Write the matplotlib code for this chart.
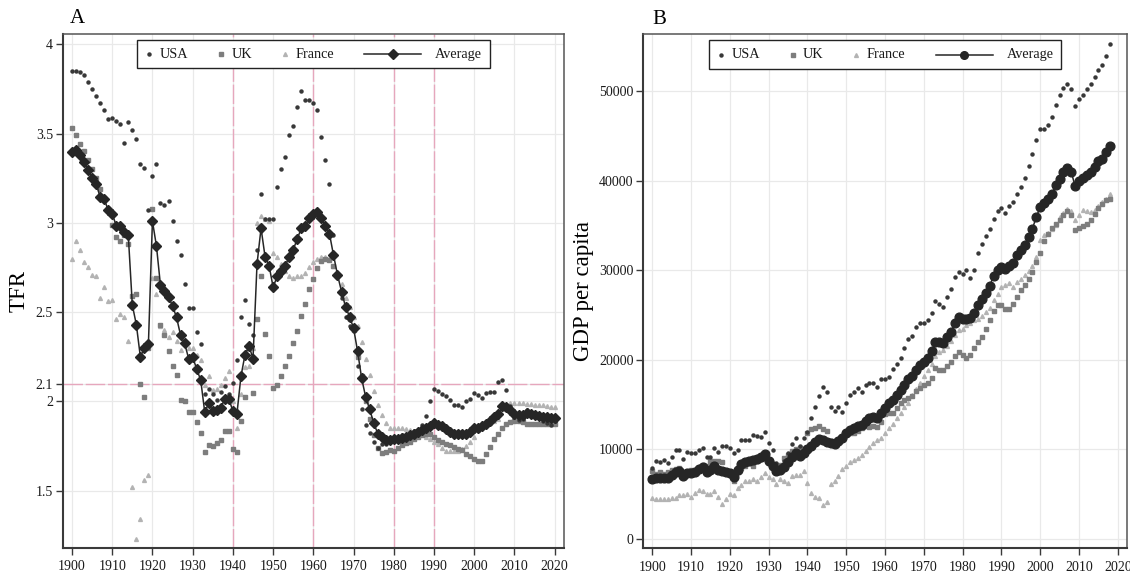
import numpy as np
import matplotlib
matplotlib.use('Agg')
import matplotlib.pyplot as plt
from matplotlib.lines import Line2D
from matplotlib.offsetbox import AnchoredOffsetbox, HPacker, DrawingArea, TextArea

plt.rcParams['font.family'] = ['Liberation Serif', 'DejaVu Serif']

#%% Datos: tasa de fecundidad (TFR), 1900-2020

anios_tfr = np.arange(1900, 2021)

tfr_usa = [3.85, 3.85, 3.845, 3.83, 3.79, 3.75, 3.71, 3.67, 3.63, 3.58,
           3.59, 3.57, 3.555, 3.45, 3.565, 3.52, 3.47, 3.33, 3.31, 3.07,
           3.26, 3.33, 3.11, 3.10, 3.12, 3.01, 2.90, 2.82, 2.66, 2.525,
           2.525, 2.39, 2.32, 2.04, 2.07, 2.04, 2.01, 2.05, 2.085, 2.04,
           2.105, 2.23, 2.47, 2.57, 2.435, 2.37, 2.85, 3.16, 3.02, 3.02,
           3.02, 3.20, 3.30, 3.37, 3.49, 3.54, 3.65, 3.74, 3.69, 3.69,
           3.67, 3.63, 3.48, 3.35, 3.22, 2.93, 2.72, 2.58, 2.47, 2.42,
           2.40, 2.20, 1.96, 1.87, 1.825, 1.77, 1.74, 1.76, 1.76, 1.79,
           1.80, 1.79, 1.81, 1.80, 1.81, 1.835, 1.84, 1.87, 1.92, 2.00,
           2.07, 2.057, 2.044, 2.03, 2.006, 1.978, 1.978, 1.97, 2.00, 2.016,
           2.047, 2.034, 2.02, 2.047, 2.05, 2.05, 2.11, 2.12, 2.066, 1.975,
           1.91, 1.895, 1.90, 1.95, 1.93, 1.92, 1.91, 1.89, 1.88, 1.87, 1.89]

tfr_uk = [3.53, 3.49, 3.44, 3.40, 3.35, 3.30, 3.25, 3.19, 3.14, 3.08,
          2.99, 2.92, 2.90, 2.93, 2.88, 2.59, 2.60, 2.10, 2.025, 2.30,
          3.08, 2.69, 2.43, 2.37, 2.28, 2.20, 2.15, 2.01, 2.00, 1.94,
          1.94, 1.885, 1.825, 1.716, 1.758, 1.75, 1.767, 1.786, 1.834, 1.834,
          1.735, 1.716, 1.89, 2.025, 2.30, 2.047, 2.464, 2.70, 2.38, 2.254,
          2.075, 2.094, 2.143, 2.197, 2.254, 2.327, 2.394, 2.477, 2.544, 2.627,
          2.688, 2.748, 2.787, 2.795, 2.79, 2.76, 2.70, 2.61, 2.54, 2.46,
          2.40, 2.25, 2.14, 2.00, 1.90, 1.81, 1.74, 1.71, 1.715, 1.725,
          1.72, 1.74, 1.755, 1.765, 1.775, 1.79, 1.80, 1.81, 1.82, 1.82,
          1.80, 1.786, 1.775, 1.764, 1.755, 1.744, 1.735, 1.726, 1.707, 1.692,
          1.68, 1.664, 1.664, 1.707, 1.744, 1.79, 1.82, 1.85, 1.876, 1.885,
          1.89, 1.89, 1.885, 1.872, 1.872, 1.872, 1.872, 1.872, 1.872, 1.872, 1.872]

tfr_fra = [2.80, 2.90, 2.85, 2.78, 2.75, 2.71, 2.70, 2.58, 2.64, 2.56,
           2.57, 2.46, 2.49, 2.47, 2.34, 1.52, 1.23, 1.34, 1.56, 1.59,
           2.69, 2.60, 2.42, 2.40, 2.36, 2.39, 2.34, 2.29, 2.33, 2.30,
           2.30, 2.26, 2.23, 2.09, 2.14, 2.066, 2.07, 2.09, 2.13, 2.17,
           2.00, 1.85, 2.04, 2.19, 2.20, 2.30, 3.00, 3.04, 3.02, 3.01,
           2.83, 2.81, 2.77, 2.73, 2.70, 2.69, 2.70, 2.70, 2.72, 2.75,
           2.78, 2.80, 2.81, 2.81, 2.80, 2.76, 2.71, 2.66, 2.58, 2.53,
           2.47, 2.42, 2.33, 2.236, 2.146, 2.06, 1.978, 1.926, 1.88, 1.85,
           1.85, 1.85, 1.85, 1.845, 1.84, 1.835, 1.83, 1.82, 1.80, 1.79,
           1.77, 1.76, 1.74, 1.72, 1.72, 1.72, 1.72, 1.735, 1.75, 1.77,
           1.80, 1.84, 1.88, 1.87, 1.88, 1.89, 1.90, 1.955, 1.97, 1.99,
           1.99, 1.99, 1.99, 1.985, 1.985, 1.98, 1.98, 1.98, 1.975, 1.97, 1.97]

tfr_prom = [3.395, 3.41, 3.38, 3.34, 3.295, 3.25, 3.22, 3.145, 3.135, 3.07,
            3.05, 2.985, 2.98, 2.95, 2.93, 2.54, 2.43, 2.25, 2.30, 2.32,
            3.01, 2.87, 2.65, 2.62, 2.585, 2.535, 2.47, 2.37, 2.325, 2.24,
            2.25, 2.18, 2.12, 1.94, 1.99, 1.945, 1.95, 1.965, 2.015, 2.015,
            1.945, 1.93, 2.14, 2.26, 2.31, 2.24, 2.77, 2.97, 2.81, 2.76,
            2.64, 2.70, 2.73, 2.76, 2.81, 2.85, 2.91, 2.97, 2.985, 3.025,
            3.05, 3.06, 3.025, 2.985, 2.94, 2.82, 2.71, 2.615, 2.53, 2.475,
            2.41, 2.28, 2.13, 2.025, 1.955, 1.88, 1.82, 1.80, 1.785, 1.785,
            1.79, 1.79, 1.795, 1.80, 1.81, 1.82, 1.83, 1.84, 1.85, 1.865,
            1.88, 1.87, 1.86, 1.845, 1.83, 1.82, 1.815, 1.815, 1.82, 1.83,
            1.85, 1.85, 1.86, 1.875, 1.89, 1.91, 1.93, 1.975, 1.97, 1.95,
            1.93, 1.925, 1.925, 1.935, 1.93, 1.925, 1.92, 1.915, 1.91, 1.905, 1.905]

tfr_ticks = [1.5, 2, 2.1, 2.5, 3, 3.5, 4]
tfr_ticklabels = ['1.5', '2', '2.1', '2.5', '3', '3.5', '4']
anios_ref = [1940, 1960, 1980, 1990]   # lineas verticales punteadas
tfr_ref = 2.1                          # nivel de reemplazo

#%% Datos: PBI per capita, 1900-2018

anios_gdp = np.arange(1900, 2019)

gdp_usa = [7950, 8700, 8550, 8810, 8440, 9180, 9920, 9920, 8920, 9730,
           9550, 9620, 9920, 10110, 9100, 9180, 10180, 9730, 10400, 10400,
           10110, 9550, 9920, 11040, 11040, 11040, 11590, 11480, 11400, 11890,
           10670, 9920, 8440, 8180, 8700, 9550, 10560, 11290, 10400, 11290,
           11890, 13530, 14750, 15980, 16910, 16420, 14750, 14270, 14680, 14120,
           15130, 16050, 16350, 16870, 16420, 17170, 17360, 17360, 16910, 17840,
           17910, 18100, 18920, 19480, 20210, 21330, 22370, 22630, 23670, 24160,
           24050, 24410, 25270, 26530, 26280, 25900, 27010, 27950, 29240, 29800,
           29540, 29990, 29170, 30070, 31960, 32970, 33780, 34640, 35750, 36600,
           36980, 36420, 37160, 37610, 38540, 39280, 40280, 41620, 43000, 44480,
           45790, 45790, 46150, 47080, 48390, 49500, 50360, 50800, 50170, 48310,
           49050, 49580, 50250, 50800, 51540, 52290, 52920, 53880, 55260]

gdp_uk = [7580, 7300, 7450, 7200, 7450, 7650, 7780, 7900, 7400, 7300,
          7700, 7750, 7950, 8300, 8100, 8700, 8750, 8650, 8550, 7500,
          7100, 6500, 7500, 7950, 8100, 8500, 8200, 8700, 8900, 9000,
          8500, 8000, 8200, 8240, 9000, 9400, 9800, 10000, 10100, 10000,
          11800, 12300, 12400, 12600, 12300, 12000, 10900, 10700, 11000, 11400,
          11700, 11800, 11800, 12000, 12340, 12600, 12520, 12630, 12520, 13080,
          13940, 14010, 14010, 14570, 15130, 15500, 15690, 15940, 16530, 16800,
          17170, 17430, 17920, 19100, 18840, 18840, 19290, 19770, 20400, 20880,
          20510, 20250, 20510, 21260, 22000, 22550, 23380, 24410, 25450, 26090,
          26090, 25720, 25720, 26280, 27010, 27760, 28320, 29060, 29800, 30900,
          31960, 33260, 34080, 34710, 35120, 35560, 36120, 36600, 36120, 34450,
          34750, 34900, 35120, 35640, 36310, 36980, 37350, 37800, 37980]

gdp_fra = [4530, 4500, 4460, 4500, 4500, 4550, 4600, 4900, 4900, 4980,
           4700, 5130, 5500, 5400, 5050, 5050, 5400, 4700, 3870, 4500,
           5050, 4900, 5650, 6000, 6500, 6500, 6650, 6450, 6900, 7390,
           6900, 6650, 6140, 6650, 6450, 6280, 7020, 7130, 7130, 7540,
           6280, 5130, 4680, 4530, 3820, 4080, 6090, 6450, 7020, 7760,
           8140, 8550, 8770, 9000, 9400, 9800, 10300, 10700, 11040, 11230,
           11850, 12340, 12820, 13460, 14010, 14680, 15200, 16050, 16720, 17360,
           18170, 18840, 19480, 20400, 20880, 21070, 21520, 22070, 22740, 23300,
           23490, 23860, 24120, 24410, 24600, 24860, 25340, 25830, 26640, 27390,
           28130, 28320, 28570, 28130, 28690, 29060, 29430, 29880, 30430, 31470,
           33410, 33890, 34190, 34560, 35000, 35930, 36380, 36870, 36600, 35560,
           36120, 36680, 36600, 36490, 36680, 37160, 37610, 37910, 38540]

gdp_prom = [6690, 6770, 6800, 6770, 6800, 7130, 7430, 7580, 7060, 7320,
            7320, 7500, 7800, 7990, 7430, 7690, 8140, 7690, 7580, 7430,
            7400, 6950, 7690, 8330, 8550, 8700, 8810, 8880, 9100, 9440,
            8700, 8180, 7620, 7690, 8070, 8630, 9180, 9550, 9250, 9630,
            10030, 10400, 10850, 11110, 11040, 10850, 10670, 10560, 10970, 11290,
            11780, 12150, 12410, 12600, 12710, 13190, 13460, 13630, 13550, 14080,
            14570, 15130, 15500, 16050, 16610, 17170, 17800, 18170, 18840, 19400,
            19770, 20210, 21000, 22000, 22000, 21820, 22550, 23110, 24110, 24780,
            24530, 24530, 24670, 25270, 26090, 26760, 27460, 28240, 29400, 30000,
            30360, 30100, 30470, 30850, 31660, 32220, 32780, 33700, 34640, 35940,
            37050, 37490, 37910, 38540, 39460, 40210, 40950, 41440, 40950, 39390,
            39910, 40280, 40580, 40950, 41500, 42140, 42440, 43180, 43850]

gdp_ticks = [0, 10000, 20000, 30000, 40000, 50000]
anios_ticks = np.arange(1900, 2021, 10)

#%% Estilos

c_usa = '#383838'
c_uk = '#7d7d7d'
c_fra = '#b3b3b3'
c_prom = '#262626'
c_ref = '#e6a7bd'
c_grid = '#e9e9e9'
c_eje = '#3a3a3a'


def estilo_ejes(ax):
    ax.set_xticks(anios_ticks)
    ax.set_xlim(1897.7, 2022.3)
    ax.grid(True, color=c_grid, lw=0.9, zorder=0)
    ax.set_axisbelow(True)
    for lado in ['left', 'bottom']:
        ax.spines[lado].set_linewidth(1.5)
        ax.spines[lado].set_color(c_eje)
    for lado in ['top', 'right']:
        ax.spines[lado].set_linewidth(1.1)
        ax.spines[lado].set_color('#555555')
    ax.tick_params(axis='both', direction='out', length=5, width=1,
                   color=c_eje, labelsize=10, labelcolor='#1a1a1a')
    ax.tick_params(axis='x', pad=4)
    ax.tick_params(axis='y', pad=2)


def leyenda(ax, marca_prom, ms_prom):
    # leyenda armada a mano para copiar el espaciado original (unidades: pt)
    def clave(ancho, **kw):
        da = DrawingArea(ancho, 8, 0, 0)
        da.add_artist(Line2D([ancho / 2], [4], ls='none', **kw))
        return da

    def hueco(ancho):
        return DrawingArea(ancho, 1, 0, 0)

    def texto(s):
        return TextArea(s, textprops=dict(fontsize=10.3, color='#1a1a1a'))

    da_prom = DrawingArea(41, 8, 0, 0)
    da_prom.add_artist(Line2D([0, 41], [4, 4], color=c_prom, lw=1.1))
    da_prom.add_artist(Line2D([20.5], [4], ls='none', marker=marca_prom,
                              ms=ms_prom, color=c_prom))

    items = [clave(7, marker='o', ms=2.2, color=c_usa), hueco(4), texto('USA'),
             hueco(20),
             clave(7, marker='s', ms=2.6, color=c_uk), hueco(4), texto('UK'),
             hueco(20),
             clave(7, marker='^', ms=2.8, color=c_fra), hueco(4), texto('France'),
             hueco(22),
             da_prom, hueco(10), texto('Average')]
    caja = HPacker(children=items, align='center', pad=0, sep=0)
    anc = AnchoredOffsetbox(loc='upper center', child=caja, pad=0.55,
                            borderpad=0, frameon=True,
                            bbox_to_anchor=(0.5, 0.988),
                            bbox_transform=ax.transAxes)
    anc.patch.set_boxstyle('square', pad=0)
    anc.patch.set_edgecolor('#222222')
    anc.patch.set_linewidth(1.0)
    anc.set_zorder(10)
    ax.add_artist(anc)


fig = plt.figure(figsize=(11.3, 5.72), dpi=100)
axA = fig.add_axes([0.0555, 0.0420, 0.4436, 0.8986])
axB = fig.add_axes([0.5693, 0.0414, 0.4278, 0.8986])

#%% Panel A: TFR

for a in anios_ref:
    axA.axvline(a, color=c_ref, lw=1.0, ls=(0, (14, 2)), zorder=1)
axA.axhline(tfr_ref, color=c_ref, lw=1.0, ls=(0, (14, 2)), zorder=1)

axA.plot(anios_tfr, tfr_fra, ls='none', marker='^', ms=2.8, color=c_fra, zorder=2)
axA.plot(anios_tfr, tfr_uk, ls='none', marker='s', ms=2.6, color=c_uk, zorder=2)
axA.plot(anios_tfr, tfr_usa, ls='none', marker='o', ms=2.2, color=c_usa, zorder=3)
axA.plot(anios_tfr, tfr_prom, color=c_prom, lw=1.1, marker='D', ms=4.6, zorder=4)

estilo_ejes(axA)
axA.set_ylim(1.179, 4.058)
axA.set_yticks(tfr_ticks)
axA.set_yticklabels(tfr_ticklabels)
axA.set_ylabel('TFR', fontsize=16.5)
axA.text(0.014, 1.011, 'A', transform=axA.transAxes, fontsize=15, va='bottom')
leyenda(axA, 'D', 4.6)

#%% Panel B: PBI per capita

axB.plot(anios_gdp, gdp_fra, ls='none', marker='^', ms=2.8, color=c_fra, zorder=2)
axB.plot(anios_gdp, gdp_uk, ls='none', marker='s', ms=2.6, color=c_uk, zorder=2)
axB.plot(anios_gdp, gdp_usa, ls='none', marker='o', ms=2.2, color=c_usa, zorder=3)
axB.plot(anios_gdp, gdp_prom, color=c_prom, lw=1.1, marker='o', ms=6.3, zorder=4)

estilo_ejes(axB)
axB.set_ylim(-1040, 56320)
axB.set_yticks(gdp_ticks)
axB.set_yticklabels([str(v) for v in gdp_ticks])
axB.set_ylabel('GDP per capita', fontsize=16.5)
axB.text(0.018, 1.011, 'B', transform=axB.transAxes, fontsize=15, va='bottom')
leyenda(axB, 'o', 5.5)

fig.savefig('out.png', dpi=100, facecolor='white')
